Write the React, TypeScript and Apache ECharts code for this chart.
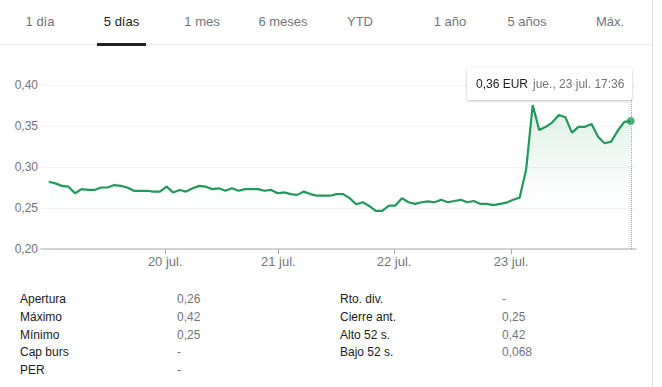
import React, { useEffect, useRef } from "react";
import * as echarts from "echarts";

// ---- data ----
const tabs = ["1 día", "5 días", "1 mes", "6 meses", "YTD", "1 año", "5 años", "Máx."];
const activeTab = "5 días";

const prices = [
  0.282, 0.280, 0.277, 0.276, 0.268, 0.273, 0.272, 0.272, 0.275, 0.275,
  0.278, 0.277, 0.275, 0.271, 0.271, 0.271, 0.270, 0.270, 0.276, 0.269,
  0.272, 0.270, 0.274, 0.277, 0.276, 0.273, 0.274, 0.271, 0.274, 0.271,
  0.273, 0.273, 0.273, 0.271, 0.272, 0.268, 0.269, 0.267, 0.266, 0.270,
  0.267, 0.265, 0.265, 0.265, 0.267, 0.267, 0.262, 0.2545, 0.257, 0.2525,
  0.2465, 0.2465, 0.253, 0.253, 0.262, 0.257, 0.255, 0.257, 0.258, 0.257,
  0.260, 0.257, 0.2585, 0.260, 0.257, 0.2585, 0.255, 0.255, 0.2535, 0.255,
  0.2565, 0.260, 0.2625, 0.297, 0.3756, 0.345, 0.349, 0.3545, 0.3634, 0.3606,
  0.342, 0.349, 0.349, 0.3524, 0.337, 0.329, 0.331, 0.344, 0.355, 0.356,
];

// day boundaries, in point-index units
const dayTickPositions = [17.8, 35.1, 52.8, 70.7];
const dayTickLabels = ["20 jul.", "21 jul.", "22 jul.", "23 jul."];

const yMin = 0.2;
const yMax = 0.4;
const yInterval = 0.05;

const currency = "EUR";
const lastTimeLabel = "jue., 23 jul. 17:36";

const leftStats: [string, string][] = [
  ["Apertura", "0,26"],
  ["Máximo", "0,42"],
  ["Mínimo", "0,25"],
  ["Cap burs", "-"],
  ["PER", "-"],
];
const rightStats: [string, string][] = [
  ["Rto. div.", "-"],
  ["Cierre ant.", "0,25"],
  ["Alto 52 s.", "0,42"],
  ["Bajo 52 s.", "0,068"],
];

// ---- layout / style ----
const FONT = 'Arial, "Liberation Sans", sans-serif';
const GREEN = "#1f9a5a";
const DARK = "#202124";
const GRAY = "#70757a";
const tabCenters = [40, 121.5, 202, 283, 360, 450, 527, 610];

const fmt = (v: number, d = 2) => v.toFixed(d).replace(".", ",");

function PriceChart() {
  const ref = useRef<HTMLDivElement>(null);
  useEffect(() => {
    if (!ref.current) return;
    const chart = echarts.init(ref.current, undefined, { renderer: "svg" });
    const lineData = prices.map((v, i) => [i, v]);
    const lastIdx = prices.length - 1;
    const lastVal = prices[lastIdx];
    chart.setOption({
      animation: false,
      grid: { left: 41, right: 16, top: 35, bottom: 31 },
      tooltip: {
        show: true,
        trigger: "item",
        triggerOn: "none",
        alwaysShowContent: true,
        transitionDuration: 0,
        backgroundColor: "#ffffff",
        borderWidth: 0,
        padding: [7, 8, 7, 9],
        extraCssText: "box-shadow: 0 1px 3px rgba(0,0,0,0.28); border-radius: 2px;",
        textStyle: { fontFamily: FONT, fontSize: 12 },
        position: (point: number[], _p: any, _d: any, _r: any, size: any) => [
          point[0] - size.contentSize[0] + 1,
          18,
        ],
        formatter: () =>
          `<span style="color:${DARK}">${fmt(lastVal)} ${currency}</span>` +
          `<span style="color:${GRAY};margin-left:5px">${lastTimeLabel}</span>`,
      },
      xAxis: {
        type: "value",
        min: -1.2,
        max: 89.8,
        splitLine: { show: false },
        axisLine: { show: true, lineStyle: { color: "#c6c6c6", width: 1.5 } },
        axisTick: {
          show: true,
          customValues: dayTickPositions,
          length: 5,
          lineStyle: { color: "#a8a8a8", width: 1 },
        },
        axisLabel: {
          show: true,
          customValues: dayTickPositions,
          formatter: (v: number) => {
            const k = dayTickPositions.indexOf(v);
            return k >= 0 ? dayTickLabels[k] : "";
          },
          color: GRAY,
          fontSize: 13,
          fontFamily: FONT,
          margin: 6,
        },
      },
      yAxis: {
        type: "value",
        min: yMin,
        max: yMax,
        interval: yInterval,
        axisLine: { show: false },
        axisTick: { show: false },
        axisLabel: {
          formatter: (v: number) => fmt(v),
          color: GRAY,
          fontSize: 12,
          fontFamily: FONT,
          margin: 3,
        },
        splitLine: { lineStyle: { color: "#f1f3f4", width: 1 } },
      },
      series: [
        {
          type: "line",
          data: lineData,
          showSymbol: false,
          symbol: "none",
          silent: true,
          lineStyle: { color: GREEN, width: 2.2 },
          areaStyle: {
            color: new echarts.graphic.LinearGradient(0, 0, 0, 1, [
              { offset: 0, color: "rgba(30,154,90,0.22)" },
              { offset: 0.3, color: "rgba(30,154,90,0.11)" },
              { offset: 0.55, color: "rgba(30,154,90,0.03)" },
              { offset: 0.8, color: "rgba(30,154,90,0)" },
              { offset: 1, color: "rgba(30,154,90,0)" },
            ]),
          },
          z: 2,
        },
        {
          type: "scatter",
          data: [[lastIdx, lastVal]],
          symbol: "circle",
          symbolSize: 8,
          itemStyle: { color: GREEN },
          z: 3,
          markLine: {
            silent: true,
            symbol: "none",
            label: { show: false },
            lineStyle: { type: "dotted", color: "#9aa0a6", width: 1 },
            data: [{ xAxis: lastIdx }],
          },
        },
      ],
    });
    chart.dispatchAction({ type: "showTip", seriesIndex: 1, dataIndex: 0 });
    return () => chart.dispose();
  }, []);
  return (
    <div
      ref={ref}
      style={{ position: "absolute", left: 0, top: 50, width: 652, height: 230 }}
    />
  );
}

export default function App() {
  const rowTop = (i: number) => 291 + i * 17.8;
  return (
    <div
      style={{
        position: "absolute",
        left: 0,
        top: 0,
        width: 662,
        height: 387,
        background: "#fff",
        fontFamily: FONT,
        overflow: "hidden",
      }}
    >
      {tabs.map((t, i) => (
        <span
          key={t}
          style={{
            position: "absolute",
            left: tabCenters[i],
            top: 13.5,
            transform: "translateX(-50%)",
            whiteSpace: "nowrap",
            fontSize: 13,
            lineHeight: "16px",
            color: t === activeTab ? DARK : GRAY,
          }}
        >
          {t}
        </span>
      ))}
      <div style={{ position: "absolute", left: 0, top: 44, width: 652, height: 1, background: "#e8eaed" }} />
      <div style={{ position: "absolute", left: 97, top: 43, width: 49, height: 3, background: DARK }} />
      <div style={{ position: "absolute", left: 652, top: 0, width: 1, height: 387, background: "#dadce0" }} />

      <PriceChart />

      {leftStats.map(([label, value], i) => (
        <React.Fragment key={label}>
          <span style={{ position: "absolute", left: 20, top: rowTop(i), fontSize: 12, lineHeight: "16px", color: DARK, whiteSpace: "nowrap" }}>
            {label}
          </span>
          <span style={{ position: "absolute", left: 177, top: rowTop(i), fontSize: 12, lineHeight: "16px", color: GRAY, whiteSpace: "nowrap" }}>
            {value}
          </span>
        </React.Fragment>
      ))}
      {rightStats.map(([label, value], i) => (
        <React.Fragment key={label}>
          <span style={{ position: "absolute", left: 340, top: rowTop(i), fontSize: 12, lineHeight: "16px", color: DARK, whiteSpace: "nowrap" }}>
            {label}
          </span>
          <span style={{ position: "absolute", left: 502, top: rowTop(i), fontSize: 12, lineHeight: "16px", color: GRAY, whiteSpace: "nowrap" }}>
            {value}
          </span>
        </React.Fragment>
      ))}
    </div>
  );
}
